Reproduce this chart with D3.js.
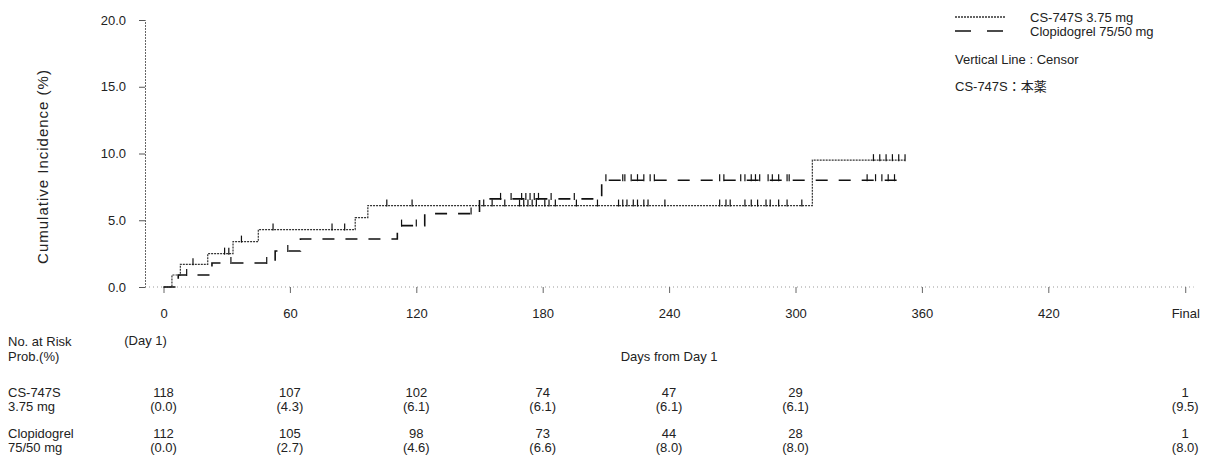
<!DOCTYPE html>
<html><head><meta charset="utf-8">
<script src="https://cdn.jsdelivr.net/npm/d3@7"></script>
<style>
html,body{margin:0;padding:0;background:#fff;}
svg{display:block;}
text{font-family:"Liberation Sans",Arial,"Noto Sans CJK JP",sans-serif;fill:#222;}
</style></head>
<body>
<svg id="chart" width="1218" height="474"></svg>
<script>
// ---- data ----
const seriesNames = ["CS-747S 3.75 mg", "Clopidogrel 75/50 mg"];
// CS-747S step curve (event days, cumulative incidence %)
const csDays   = [0, 4, 8, 21, 33, 45, 91, 97, 308, 352];
const csValues = [0, 0.9, 1.7, 2.5, 3.4, 4.3, 5.2, 6.1, 9.5, 9.5];
const csCensor = [14, 29, 31, 37, 52, 80, 86, 106, 118, 152, 156, 162, 169, 171, 173, 175, 177, 181, 183, 186, 196, 206, 216, 218, 220, 223, 225, 228, 230, 238, 264, 267, 269, 276, 279, 282, 286, 288, 292, 296, 303, 337, 340, 343, 346, 349, 352];
// Clopidogrel step curve
const clDays   = [0, 7, 23, 53, 65, 111, 124, 150, 208, 348];
const clValues = [0, 0.9, 1.8, 2.7, 3.6, 4.6, 5.5, 6.6, 8.0, 8.0];
const clCensor = [11, 32, 49, 59, 113, 120, 146, 160, 165, 170, 172, 174, 176, 178, 184, 195, 210, 218, 219, 222, 225, 228, 231, 233, 264, 266, 274, 276, 279, 281, 283, 287, 289, 292, 296, 297, 334, 338, 341, 344, 347];
// axes
const yTicks = [0, 5, 10, 15, 20];
const xTickDays = [0, 60, 120, 180, 240, 300, 360, 420, 485];
const xTickLabels = ["0", "60", "120", "180", "240", "300", "360", "420", "Final"];
// risk table
const riskCols = [0, 60, 120, 180, 240, 300, 485];
const csRisk = ["118", "107", "102", "74", "47", "29", "1"];
const csProb = ["(0.0)", "(4.3)", "(6.1)", "(6.1)", "(6.1)", "(6.1)", "(9.5)"];
const clRisk = ["112", "105", "98", "73", "44", "28", "1"];
const clProb = ["(0.0)", "(2.7)", "(4.6)", "(6.6)", "(8.0)", "(8.0)", "(8.0)"];

// ---- drawing ----
const svg = d3.select("#chart");
const x = d3.scaleLinear().domain([0, 420]).range([163.5, 1048.3]);
const y = d3.scaleLinear().domain([0, 20]).range([287, 20]);
const FS = 13;

// y axis
const yAxis = svg.append("g").attr("transform", "translate(145,0)")
  .call(d3.axisLeft(y).tickValues(yTicks).tickFormat(d3.format(".1f")).tickSize(6).tickPadding(13));
yAxis.select(".domain").attr("stroke", "#666").attr("stroke-dasharray", "2,1");
yAxis.selectAll(".tick line").attr("stroke", "#555");
yAxis.selectAll("text").style("font-size", FS + "px").attr("fill", "#222")
  .style("font-family", "'Liberation Sans',Arial,sans-serif");

// x axis
svg.append("line").attr("x1", 145).attr("x2", x(489)).attr("y1", y(0)).attr("y2", y(0))
  .attr("stroke", "#999").attr("stroke-dasharray", "1,3");
const xAxis = svg.append("g").attr("transform", `translate(0,${y(0)})`)
  .call(d3.axisBottom(x).tickValues(xTickDays).tickFormat((d, i) => xTickLabels[i]).tickSize(6).tickPadding(16));
xAxis.select(".domain").remove();
xAxis.selectAll(".tick line").attr("stroke", "#666");
xAxis.selectAll("text").style("font-size", FS + "px").attr("fill", "#222")
  .style("font-family", "'Liberation Sans',Arial,sans-serif");

// y title
svg.append("text").attr("transform", `translate(48,${(y(0) + y(20)) / 2 + 13}) rotate(-90)`)
  .attr("text-anchor", "middle").style("font-size", "15px").style("letter-spacing", "1px")
  .text("Cumulative Incidence (%)");

// curves
const stepLine = d3.line().x(d => x(d[0])).y(d => y(d[1])).curve(d3.curveStepAfter);
function stepAt(days, vals, t) {
  let v = vals[0];
  for (let i = 0; i < days.length; i++) if (days[i] <= t) v = vals[i];
  return v;
}
const curves = [
  {days: csDays, vals: csValues, cens: csCensor, stroke: "#333", width: 1.2, dash: "2,1"},
  {days: clDays, vals: clValues, cens: clCensor, stroke: "#111", width: 1.6, dash: "12,11"}
];
curves.forEach(c => {
  const pts = c.days.map((d, i) => [d, c.vals[i]]);
  svg.append("path").attr("d", stepLine(pts)).attr("fill", "none")
    .attr("stroke", c.stroke).attr("stroke-width", c.width).attr("stroke-dasharray", c.dash);
  svg.append("g").selectAll("line").data(c.cens).join("line")
    .attr("x1", d => x(d)).attr("x2", d => x(d))
    .attr("y1", d => y(stepAt(c.days, c.vals, d)) - 6)
    .attr("y2", d => y(stepAt(c.days, c.vals, d)) + 1)
    .attr("stroke", "#111").attr("stroke-width", 1.2);
});

// legend
const lg = svg.append("g");
lg.append("line").attr("x1", 955).attr("x2", 1005).attr("y1", 17).attr("y2", 17)
  .attr("stroke", "#333").attr("stroke-width", 1.5).attr("stroke-dasharray", "2,1");
lg.append("line").attr("x1", 955).attr("x2", 1005).attr("y1", 31).attr("y2", 31)
  .attr("stroke", "#111").attr("stroke-width", 1.6).attr("stroke-dasharray", "16,16");
lg.append("text").attr("x", 1030).attr("y", 21.5).style("font-size", FS + "px").text(seriesNames[0]);
lg.append("text").attr("x", 1030).attr("y", 35.5).style("font-size", FS + "px").text(seriesNames[1]);
lg.append("text").attr("x", 955).attr("y", 63.5).style("font-size", FS + "px").text("Vertical Line : Censor");
lg.append("text").attr("x", 955).attr("y", 90.5).style("font-size", FS + "px").text("CS-747S：本薬");

// risk table
const tbl = svg.append("g").style("font-size", FS + "px");
tbl.append("text").attr("x", 8).attr("y", 345.5).text("No. at Risk");
tbl.append("text").attr("x", 8).attr("y", 360.5).text("Prob.(%)");
tbl.append("text").attr("x", x(0) - 18).attr("y", 344.5).attr("text-anchor", "middle").text("(Day 1)");
tbl.append("text").attr("x", x(240)).attr("y", 361).attr("text-anchor", "middle").text("Days from Day 1");
tbl.append("text").attr("x", 8).attr("y", 396.5).text("CS-747S");
tbl.append("text").attr("x", 8).attr("y", 410.5).text("3.75 mg");
tbl.append("text").attr("x", 8).attr("y", 437.5).text("Clopidogrel");
tbl.append("text").attr("x", 8).attr("y", 452).text("75/50 mg");
const rows = [[csRisk, 396.5], [csProb, 410.5], [clRisk, 437.5], [clProb, 452]];
rows.forEach(([arr, yy]) => {
  tbl.append("g").selectAll("text").data(arr).join("text")
    .attr("x", (d, i) => x(riskCols[i])).attr("y", yy).attr("text-anchor", "middle").text(d => d);
});
</script>
</body></html>
